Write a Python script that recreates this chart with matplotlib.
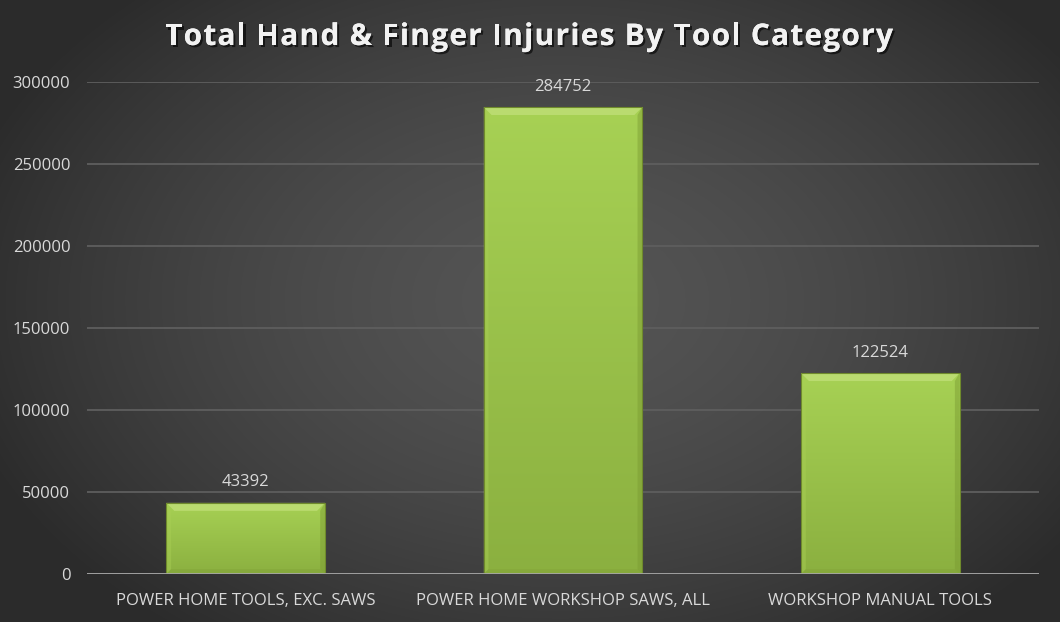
import numpy as np
import matplotlib
matplotlib.use("Agg")
import matplotlib.pyplot as plt
from matplotlib.patches import Polygon
from matplotlib.transforms import IdentityTransform
import matplotlib.patheffects as pe

categories = ["POWER HOME TOOLS, EXC. SAWS", "POWER HOME WORKSHOP SAWS, ALL", "WORKSHOP MANUAL TOOLS"]
values = [43392, 284752, 122524]
yticks = [0, 50000, 100000, 150000, 200000, 250000, 300000]
title = "Total Hand & Finger Injuries By Tool Category"

W, H = 1060, 622
fig = plt.figure(figsize=(W / 100, H / 100), dpi=100)
plt.rcParams['font.family'] = ['Open Sans', 'DejaVu Sans']

# radial background
bg = fig.add_axes([0, 0, 1, 1], zorder=-10)
yy, xx = np.mgrid[0:H, 0:W]
r = np.sqrt(((xx - 560) / 620.0) ** 2 + ((yy - 300) / 420.0) ** 2)
r = np.clip(r, 0, 1)
c = 0.33 - 0.16 * r ** 1.6
img = np.dstack([c, c, c])
bg.imshow(img, aspect='auto', extent=[0, 1, 0, 1], origin='upper')
bg.axis('off')

ax = fig.add_axes([87 / W, (H - 574) / H, (1039 - 87) / W, (574 - 82) / H])
ax.set_facecolor('none')
ax.set_xlim(-0.5, 2.5)
ax.set_ylim(0, 300000)
for s in ax.spines.values():
    s.set_visible(False)
ax.set_yticks(yticks)
ax.set_yticklabels([str(v) for v in yticks])
ax.tick_params(axis='y', length=0, pad=12, labelsize=12, labelcolor='#d9d9d9')
ax.set_xticks(range(len(categories)))
ax.set_xticklabels(categories)
ax.tick_params(axis='x', length=0, pad=14, labelsize=12, labelcolor='#d9d9d9')
ax.grid(axis='y', color='#5e5e5e', linewidth=1.3, zorder=0)
ax.set_axisbelow(True)
ax.axhline(0, color='#a6a6a6', linewidth=2, zorder=5)

bars = ax.bar(range(len(values)), values, width=0.5, color='none', edgecolor='none', zorder=3)

fig.canvas.draw()
renderer = fig.canvas.get_renderer()
grad = np.linspace(0, 1, 256).reshape(-1, 1)
top_col = np.array([0.655, 0.820, 0.330])
bot_col = np.array([0.545, 0.690, 0.250])
gimg = top_col[None, None, :] * (1 - grad[:, :, None]) + bot_col[None, None, :] * grad[:, :, None]
bev = 8
for b, v in zip(bars, values):
    x0, x1 = b.get_x(), b.get_x() + b.get_width()
    im = ax.imshow(gimg, aspect='auto', extent=[x0, x1, 0, v], origin='upper', zorder=3)
    im.set_clip_path(b)
    (px0, py0) = ax.transData.transform((x0, 0))
    (px1, py1) = ax.transData.transform((x1, v))
    polys = [
        ([(px0, py1), (px1, py1), (px1 - bev, py1 - bev), (px0 + bev, py1 - bev)], '#c2e07a', 0.75),
        ([(px0, py0), (px0, py1), (px0 + bev * 0.6, py1 - bev), (px0 + bev * 0.6, py0 + bev * 0.6)], '#a9cf55', 0.45),
        ([(px1, py0), (px1, py1), (px1 - bev * 0.6, py1 - bev), (px1 - bev * 0.6, py0 + bev * 0.6)], '#7a9a32', 0.45),
        ([(px0, py0), (px1, py0), (px1 - bev * 0.6, py0 + bev * 0.6), (px0 + bev * 0.6, py0 + bev * 0.6)], '#7f9f36', 0.4),
    ]
    for pts, col, a in polys:
        ax.add_patch(Polygon(pts, closed=True, facecolor=col, edgecolor='none',
                             transform=IdentityTransform(), zorder=4, alpha=a))
    ax.add_patch(Polygon([(px0, py0), (px0, py1), (px1, py1), (px1, py0)], closed=True,
                         facecolor='none', edgecolor='#6f8a2c', linewidth=0.8,
                         transform=IdentityTransform(), zorder=4))
    ax.annotate(str(v), (b.get_x() + b.get_width() / 2, v), xytext=(0, 9),
                textcoords='offset points', ha='center', va='bottom',
                fontsize=12, color='#d9d9d9', zorder=6)

# letter-spaced title
tsize = 21.5
effects = [pe.withSimplePatchShadow(offset=(1.5, -1.5), shadow_rgbFace='black', alpha=0.6), pe.Normal()]
widths = []
for ch in title:
    t = fig.text(0, 0, ch if ch != ' ' else 'n', fontsize=tsize, fontweight='bold')
    w = t.get_window_extent(renderer).width
    if ch == ' ':
        tt = fig.text(0, 0, 'n n', fontsize=tsize, fontweight='bold')
        w = tt.get_window_extent(renderer).width - 2 * w
        tt.remove()
    widths.append(w)
    t.remove()
target = 893 - 165
gap = (target - sum(widths)) / (len(title) - 1)
x = 529 - target / 2
for ch, w in zip(title, widths):
    if ch != ' ':
        fig.text(x / W, 1 - 37 / H, ch, ha='left', va='center', fontsize=tsize,
                 fontweight='bold', color='#f2f2f2', path_effects=effects)
    x += w + gap

fig.savefig('out.png', dpi=100)
